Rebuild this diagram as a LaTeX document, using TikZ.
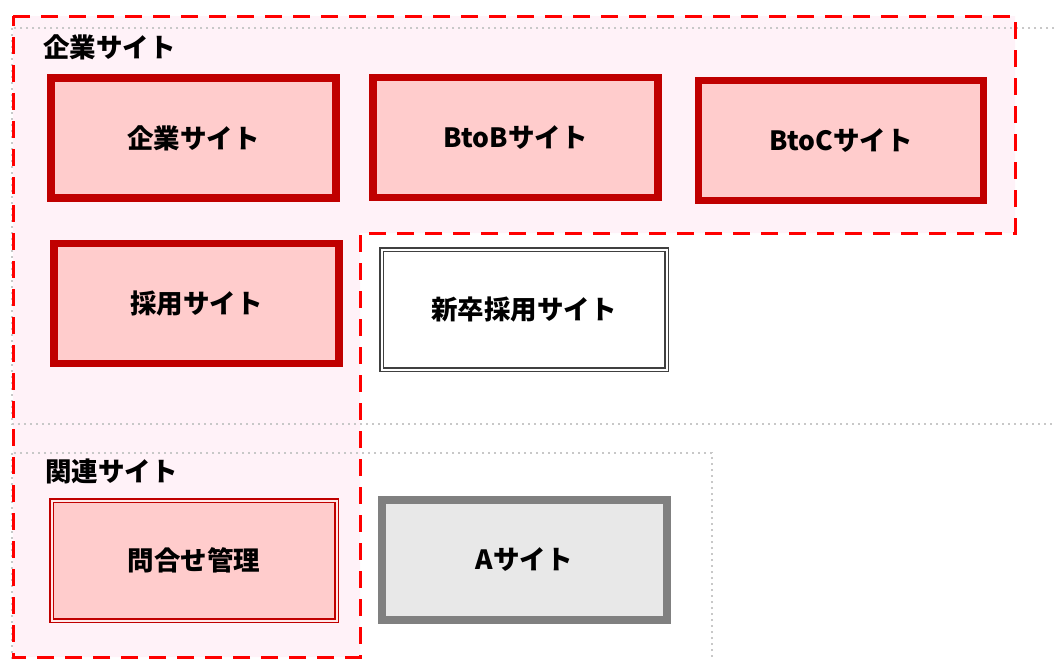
\documentclass[tikz,border=0pt]{standalone}
\usepackage{fontspec}
\setmainfont{Noto Sans CJK JP}
\definecolor{siteRed}{HTML}{C00000}
\definecolor{sitePink}{HTML}{FFCCCC}
\definecolor{areaPink}{HTML}{FFF2F8}
\definecolor{groupGray}{HTML}{C8C8C8}

\begin{document}
\begin{tikzpicture} [x=1pt, y=-1pt,
  site/.style={draw, align=center, minimum width=285pt, minimum height=120pt,
    font=\fontsize{26.5}{30}\selectfont\bfseries},
  mainsite/.style={site, draw=siteRed, fill=sitePink, line width=7.5pt},
  subsite/.style={site, draw=black!75, fill=white, double=white, double distance=2pt, line width=1.5pt},
  toolsite/.style={site, draw=siteRed, fill=sitePink, double=pink!35, double distance=2pt, line width=1.5pt},
  othersite/.style={site, draw=gray, fill=black!9, line width=8pt},
  grouplabel/.style={anchor=west, inner sep=0, font=\fontsize{26.5}{30}\selectfont\bfseries},
  group/.style={groupGray, line width=1.8pt, dash pattern=on 1.8pt off 4.2pt},
  area/.style={red, line width=3pt, dash pattern=on 17pt off 11pt}]
\clip (0,0) rectangle (1056,659);
% highlighted area
\fill[areaPink] (13,16) -- (1015,16) -- (1015,233) -- (360,233) -- (360,657) -- (13,657) -- cycle;
\draw[group] (12,28) rectangle (1070,424);
\draw[group] (12,453) rectangle (712,670);
\draw[area] (13,16) -- (1015,16) -- (1015,233) -- (360,233) -- (360,657) -- (13,657) -- cycle;

\node[grouplabel] (corpLabel) at (43,47) {企業サイト};
\node[grouplabel] (relLabel) at (45,471) {関連サイト};

\node[mainsite] (corp) at (193.5,138) {企業サイト};
\node[mainsite] (btob) at (515.5,137.5) {BtoBサイト};
\node[mainsite] (btoc) at (841,140.5) {BtoCサイト};
\node[mainsite] (recruit) at (196.5,303.5) {採用サイト};
\node[subsite] (newgrad) at (524,309.5) {新卒採用サイト};
\node[toolsite] (contact) at (194,560.5) {問合せ管理};
\node[othersite] (asite) at (524,560) {Aサイト};
\end{tikzpicture}
\end{document}
